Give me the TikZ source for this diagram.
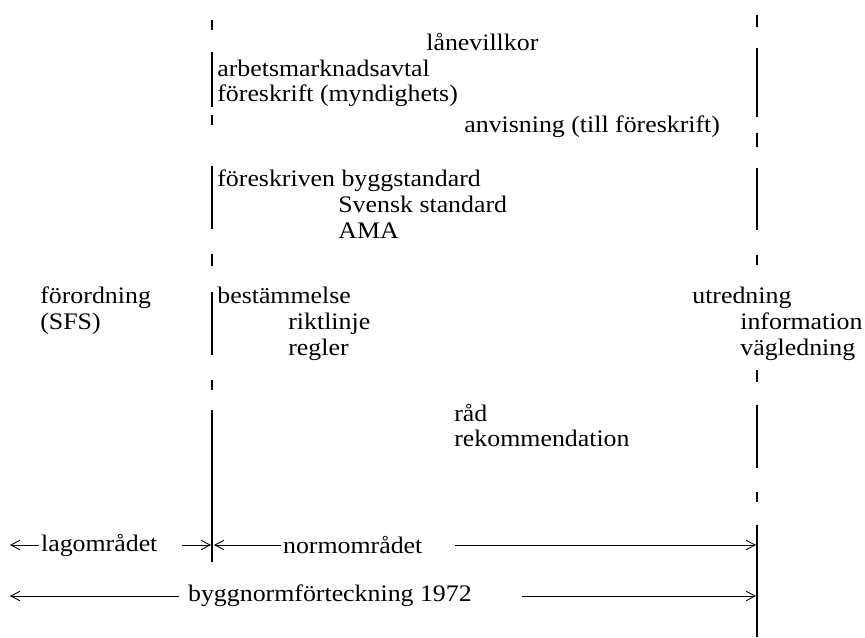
\documentclass[tikz,border=0pt]{standalone}
\usepackage{fontspec}
\setmainfont{Liberation Serif}[FakeStretch=1.09]
\usetikzlibrary{arrows.meta, positioning}

\begin{document}
\begin{tikzpicture}[
    x=0.02cm, y=-0.02cm,
    lbl/.style={anchor=base west, inner sep=0pt, font=\fontsize{13.5}{15}\selectfont},
    arr/.style={-{Straight Barb[length=1.8mm, width=1.9mm]}, line width=0.5pt},
    bound/.style={line width=0.9pt},
]
\useasboundingbox (0,0) rectangle (865,637);

% area boundaries, broken lines
\foreach \a/\b in {20/30, 52/107, 115/125, 166/229, 254/266, 292/355, 380/390, 410/562}
  \draw[bound] (212,\a) -- (212,\b);
\foreach \a/\b in {15/27, 48/117, 133/147, 168/230, 255/265, 370/382, 405/468, 492/502, 525/637}
  \draw[bound] (757,\a) -- (757,\b);

% terms
\node[lbl] (lane) at (426,50) {lånevillkor};
\node[lbl] (arbets) at (217,76) {arbetsmarknadsavtal};
\node[lbl] (foreskr) at (217,101) {föreskrift (myndighets)};
\node[lbl] (anvis) at (464,132) {anvisning (till föreskrift)};
\node[lbl] (byggstd) at (217,186) {föreskriven byggstandard};
\node[lbl] (ss) at (338,212) {Svensk standard};
\node[lbl] (ama) at (338,238) {AMA};
\node[lbl] (forord) at (40,303) {förordning};
\node[lbl] (sfs) at (40,329) {(SFS)};
\node[lbl] (bestam) at (217,303) {bestämmelse};
\node[lbl] (riktl) at (288,329) {riktlinje};
\node[lbl] (regler) at (288,355) {regler};
\node[lbl] (utred) at (692,303) {utredning};
\node[lbl] (info) at (740,329) {information};
\node[lbl] (vagl) at (740,355) {vägledning};
\node[lbl] (rad) at (454,421) {råd};
\node[lbl] (rekom) at (454,446) {rekommendation};

% ranges
\coordinate (lagL) at (10,545);
\coordinate (lagS) at (182,545);
\coordinate (lagR) at (211,545);
\coordinate (normL) at (214,545);
\coordinate (normS) at (455,545);
\coordinate (normR) at (756,545);
\coordinate (listL) at (10,596);
\coordinate (listS) at (522,596);
\coordinate (listR) at (756,596);
\node[lbl, anchor=west, inner xsep=1pt] (lag) at (39,545) {lagområdet};
\node[lbl, anchor=west, inner xsep=1pt] (norm) at (281,545) {normområdet};
\node[lbl, anchor=west, inner xsep=5pt] (lista) at (179,596) {byggnormförteckning 1972};

\draw[arr] (lag) -- (lagL);
\draw[arr] (lagS) -- (lagR);
\draw[arr] (norm) -- (normL);
\draw[arr] (normS) -- (normR);
\draw[arr] (lista) -- (listL);
\draw[arr] (listS) -- (listR);

\end{tikzpicture}
\end{document}
